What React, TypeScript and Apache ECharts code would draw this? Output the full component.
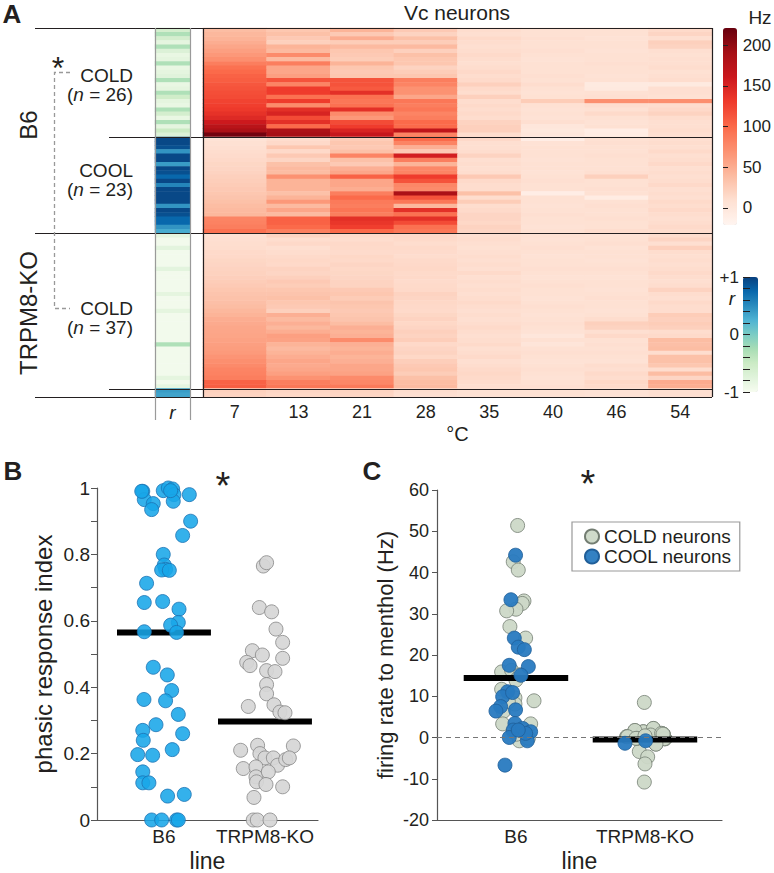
import { useEffect, useRef } from 'react';
import * as echarts from 'echarts';

// ---------- Panel A: heat map (Hz), one array per temperature column, rows top -> bottom ----------
const temps = ['7', '13', '21', '28', '35', '40', '46', '54'];

const b6ColdHz = [
  [38, 42, 45, 50, 55, 60, 65, 72, 85, 95, 100, 105, 108, 112, 115, 118, 120, 125, 128, 132, 138, 145, 160, 175, 185, 215],
  [30, 35, 28, 22, 45, 40, 75, 40, 85, 55, 55, 60, 115, 80, 130, 130, 95, 130, 75, 140, 150, 120, 140, 100, 185, 190],
  [45, 28, 50, 25, 40, 30, 28, 25, 45, 30, 28, 30, 115, 115, 110, 140, 95, 90, 95, 140, 75, 65, 120, 130, 150, 165],
  [28, 20, 35, 25, 40, 22, 35, 30, 30, 20, 25, 30, 85, 80, 70, 70, 55, 90, 85, 90, 80, 85, 100, 100, 170, 80],
  [12, 10, 14, 12, 10, 12, 14, 12, 10, 12, 15, 12, 14, 22, 14, 12, 22, 12, 14, 12, 14, 12, 20, 22, 22, 12],
  [8, 8, 10, 8, 8, 10, 8, 6, 8, 8, 8, 10, 8, 12, 8, 6, 8, 25, 8, 6, 8, 6, 10, 0, -2, 0],
  [8, 8, 6, 8, 8, 6, 8, 8, 10, 8, 8, 6, 8, -5, -4, 8, 10, 72, 12, 8, 14, 8, 6, 8, -10, -8],
  [14, 18, 10, 22, 20, 10, 8, 10, 10, 12, 8, 10, 12, -5, 10, 10, 8, 72, 12, 15, 20, 12, 10, 10, 12, 10],
];
const b6CoolHz = [
  [5, 8, 10, 12, 13, 15, 17, 18, 20, 22, 24, 26, 28, 30, 32, 35, 38, 40, 42, 80, 82, 85, 95],
  [12, 15, 30, 15, 28, 18, 35, 40, 38, 70, 45, 45, 45, 35, 45, 65, 40, 55, 40, 105, 105, 100, 85],
  [25, 30, 28, 35, 80, 35, 28, 48, 55, 105, 55, 55, 50, 85, 100, 88, 85, 92, 85, 140, 135, 128, 100],
  [100, 80, 48, 28, 155, 85, 45, 78, 80, 130, 115, 78, 75, 185, 115, 90, 42, 140, 95, 140, 120, 95, 90],
  [15, 10, 10, 12, 20, 10, 12, 10, 12, 28, 14, 12, 12, 35, 12, 25, 12, 14, 18, 18, 16, 20, 18],
  [-10, 6, 8, 8, 8, 6, 8, 8, 6, 8, 10, 8, 8, -10, 8, 8, 6, 8, 10, 8, 8, 6, 8],
  [8, 10, 8, 8, 10, 8, 8, 8, 10, 22, 8, 8, 10, 8, -8, 8, 10, 8, 8, 10, 8, 8, 12],
  [10, 12, 10, 14, 10, 12, 15, 10, 12, 10, 12, 15, 10, 12, 10, 14, 12, 15, 12, 10, 12, 14, 12],
];
const koColdHz = [
  [8, 10, 11, 12, 14, 15, 17, 18, 20, 21, 23, 25, 27, 30, 32, 34, 36, 38, 42, 45, 50, 52, 54, 55, 56, 58, 60, 62, 64, 68, 72, 76, 80, 82, 85, 105, 108],
  [20, 12, 15, 10, 12, 14, 16, 15, 20, 18, 22, 28, 25, 30, 32, 35, 30, 28, 22, 48, 40, 48, 42, 50, 60, 58, 45, 40, 45, 50, 55, 52, 55, 60, 70, 85, 90],
  [14, 12, 15, 14, 13, 16, 15, 18, 16, 17, 18, 20, 20, 28, 30, 26, 32, 30, 28, 30, 32, 38, 48, 45, 48, 75, 48, 45, 50, 45, 48, 55, 55, 58, 75, 78, 88],
  [15, 14, 12, 14, 13, 12, 14, 15, 16, 14, 15, 13, 14, 15, 20, 18, 16, 15, 14, 17, 20, 16, 18, 22, 20, 24, 15, 18, 20, 16, 24, 28, 30, 25, 35, 38, 40],
  [10, 12, 10, 8, 10, 12, 10, 12, 10, 14, 10, 12, 10, 12, 10, 12, 14, 12, 10, 12, 10, 12, 14, 12, 10, 12, 14, 10, 12, 14, 10, 12, 14, 16, 14, 12, 10],
  [8, 6, 8, 10, 8, 6, 8, 8, 10, 8, 6, 8, 10, 8, 8, 6, 8, 10, 8, 6, 8, 10, 8, 6, 0, 8, 2, 8, 10, 8, 6, 8, 10, 8, 6, 8, 10],
  [6, 8, 10, 6, 8, 8, 6, 8, 10, 8, 6, 8, 8, 6, 8, 10, 8, 8, 6, 8, 12, 22, 20, 10, 15, 8, 10, 8, 10, 8, 6, 12, 10, 14, 12, 16, 14],
  [12, 18, 10, 22, 12, 10, 12, 10, 12, 14, 12, 10, 12, 20, 12, 10, 14, 12, 12, 25, 22, 25, 22, 12, 14, 38, 36, 38, 12, 35, 35, 30, 12, 38, 18, 52, 50],
];
const koCoolHz = [[22, 20], [18, 16], [20, 18], [12, 10], [8, 8], [8, 8], [6, 6], [10, 10]];

// r column (correlation), rows top -> bottom
const rB6Cold = [-0.6, -0.3, -0.6, -0.8, -0.3, -0.7, -0.85, -0.8, -0.3, -0.85, -0.8, -0.75, -0.3, -0.85, -0.8, -0.3, -0.55, -0.8, -0.85, -0.3, -0.6, -0.85, -0.3, -0.8, -0.5, -0.7];
const rB6Cool = [0.95, 0.95, 0.9, 0.45, 0.95, 0.95, 0.4, 0.95, 0.9, 0.75, 0.95, 0.55, 0.95, 0.95, 0.95, 0.95, 0.45, 0.95, 0.9, 0.75, 0.75, 0.45, 0.3];
const rKoCold = [-0.8, -0.95, -0.95, -0.78, -0.95, -0.95, -0.95, -0.95, -0.78, -0.95, -0.95, -0.95, -0.95, -0.95, -0.8, -0.95, -0.95, -0.95, -0.8, -0.95, -0.95, -0.95, -0.95, -0.95, -0.95, -0.95, -0.3, -0.95, -0.95, -0.95, -0.95, -0.95, -0.95, -0.95, -0.8, -0.95, -0.82];
const rKoCool = [0.4, 0.35];

const hzTicks = [0, 50, 100, 150, 200];
const rTicks = [-1, -0.8, -0.6, -0.4, -0.2, 0, 0.2, 0.4, 0.6, 0.8, 1];
const rLabels = [-1, 0, 1];

// ---------- Panel B: phasic response index ----------
const lineCats = ['B6', 'TRPM8-KO'];
const b6Phasic = [0.99, 0.965, 0.953, 0.935, 0.992, 1.0, 0.997, 0.98, 0.96, 0.98, 0.9, 0.857, 0.8, 0.768, 0.755, 0.753, 0.752, 0.713, 0.655, 0.658, 0.635, 0.595, 0.587, 0.567, 0.565, 0.46, 0.437, 0.39, 0.363, 0.359, 0.318, 0.287, 0.27, 0.24, 0.26, 0.197, 0.195, 0.212, 0.145, 0.112, 0.112, 0.072, 0.077, 0, 0, 0, 0, 0.99, 0.992];
const b6PhasicJitter = [-0.21, -0.195, -0.106, -0.122, -0.007, 0.043, 0.086, 0.099, 0.092, 0.251, 0.264, 0.185, -0.007, 0.003, 0.016, -0.023, 0.053, -0.172, -0.195, -0.013, 0.149, 0.142, 0.066, -0.195, 0.125, -0.106, 0.033, 0.076, -0.198, 0.016, 0.142, -0.079, -0.21, -0.205, 0.185, -0.26, -0.112, 0.082, -0.21, -0.21, -0.149, 0.036, 0.201, -0.122, -0.023, 0.125, 0.142, -0.22, 0.066];
const koPhasic = [0.765, 0.775, 0.64, 0.627, 0.575, 0.535, 0.51, 0.497, 0.475, 0.465, 0.487, 0.45, 0.447, 0.408, 0.38, 0.342, 0.347, 0.325, 0.323, 0.225, 0.21, 0.2, 0.187, 0.187, 0.165, 0.182, 0.223, 0.187, 0.155, 0.16, 0.13, 0.115, 0.145, 0.107, 0.1, 0.068, 0, 0, 0];
const koPhasicJitter = [-0.016, 0.016, -0.056, 0.066, 0.109, 0.175, -0.125, -0.026, -0.181, -0.148, 0.175, 0.016, 0.099, 0.016, 0.016, -0.165, 0.089, 0.148, 0.198, -0.073, -0.241, -0.05, 0, 0.083, 0.125, 0.205, 0.281, 0.241, -0.215, -0.089, -0.089, -0.083, 0.033, 0.01, 0.175, -0.109, -0.116, -0.076, 0.05];
const phasicMeans = [0.565, 0.297];

// ---------- Panel C: firing rate to menthol (Hz) ----------
const b6ColdMenthol = [51.4, 42.6, 40.6, 33.1, 32.5, 31.1, 30.7, 26.9, 24.1, 15.9, 16.3, 13.9, 11.7, 9.6, 8.9, 8.1, 6.3, 3.3, 3.3, -0.8, 1.4, 1.8, 8.7, 15.2, 0.8, -0.2];
const b6ColdJitter = [0.013, -0.021, 0.018, 0.062, 0.049, 0, -0.072, -0.047, 0.075, -0.111, -0.034, 0, -0.111, -0.008, 0.14, -0.008, -0.098, -0.103, 0.114, 0.026, -0.021, 0.057, -0.059, 0.031, 0.005, 0.096];
const b6CoolMenthol = [44.2, 33.4, 24.1, 21.9, 21.3, 17.5, 17.2, 15.1, 11.1, 9.9, 7.5, 6.4, 6.7, 3.4, 1.8, 2.2, 1.4, 0.0, -0.8, -6.7, 1.0, 1.8, 10.9];
const b6CoolJitter = [-0.003, -0.039, -0.013, 0.018, 0.065, -0.052, 0.096, 0.039, -0.065, -0.103, -0.119, -0.155, -0.003, -0.008, -0.021, 0.052, 0.114, -0.052, 0.088, -0.085, 0.075, 0.018, -0.026];
const koColdMenthol = [8.5, 1.7, 1.4, 2.2, 0.8, 0.2, -0.2, -0.4, 0.2, -0.3, -1.6, -3.4, -4.7, -6.4, -10.8, 1.0, 0.6, 0.2, -0.2, -0.4, 0.3, -0.3, 0.8, 1.4, 2.2, 1.7, -0.2, 0.2, -0.4, 0.6, 1.0, -0.3, 0.2, -0.2, -1.6, 0.8, 0.4];
const koColdJitter = [-0.005, -0.078, -0.013, 0.065, 0.142, -0.142, -0.065, 0.013, 0.103, 0.155, 0.085, -0.044, 0.021, 0, -0.005, 0.129, 0.044, -0.14, -0.065, 0.013, 0.103, 0.155, 0.142, -0.013, 0.065, -0.078, -0.06, 0.1, 0.02, 0.044, 0.129, 0.15, -0.135, -0.07, 0.085, 0.14, 0.0];
const koCoolMenthol = [-1.4, -0.8];
const koCoolJitter = [-0.155, 0.005];
const mentholMeans = [14.4, -0.5];

const FONT = '"Liberation Sans", Arial, Helvetica, sans-serif';
const INK = '#231f20';

const reds = ['#fff5f0', '#fee0d2', '#fcbba1', '#fc9272', '#fb6a4a', '#ef3b2c', '#cb181d', '#a50f15', '#67000d'];
const gnbu = ['#f7fcf0', '#e0f3db', '#ccebc5', '#a8ddb5', '#7bccc4', '#4eb3d3', '#2b8cbe', '#0868ac', '#08407e'];

export default function App() {
  const ref = useRef<HTMLDivElement>(null);

  useEffect(() => {
    const chart = echarts.init(ref.current!, null, { renderer: 'svg' });

    // ---- assemble heat map cells ----
    const groups = [
      { hz: b6ColdHz, r: rB6Cold },
      { hz: b6CoolHz, r: rB6Cool },
      { hz: koColdHz, r: rKoCold },
      { hz: koCoolHz, r: rKoCool },
    ];
    const heatData: number[][] = [];
    const rData: number[][] = [];
    const bounds: number[] = [];
    let row = 0;
    groups.forEach((g) => {
      for (let i = 0; i < g.r.length; i++) {
        for (let t = 0; t < temps.length; t++) heatData.push([t, row + i, g.hz[t][i]]);
        rData.push([0, row + i, g.r[i]]);
      }
      row += g.r.length;
      bounds.push(row);
    });
    const totalRows = row;
    const rowCats = Array.from({ length: totalRows }, (_, i) => String(i));

    // layout of panel A
    const HL = 203, HR = 712, HT = 28, HB = 397;
    const rowH = (HB - HT) / totalRows;
    const yB = (n: number) => Math.round(HT + n * rowH) + 0.5;

    const ln = (x1: number, y1: number, x2: number, y2: number, stroke = INK, lw = 1.2, dash?: number[]) => ({
      type: 'line', z: 100, silent: true,
      shape: { x1, y1, x2, y2 },
      style: { stroke, lineWidth: lw, lineDash: dash },
    });
    const txt = (text: string, x: number, y: number, size: number, extra: any = {}, el: any = {}) => ({
      type: 'text', x, y, z: 100, silent: true, ...el,
      style: { text, fontSize: size, fontFamily: FONT, fill: INK, align: 'center', verticalAlign: 'middle', ...extra },
    });
    const nText = (count: number, x: number, y: number) =>
      txt(`({i|n} = ${count})`, x, y, 19, { align: 'right', rich: { i: { fontStyle: 'italic', fontSize: 19, fontFamily: FONT, fill: INK } } });

    const axisLineStyle = { color: '#555', width: 1.2 };

    const pts = (base: number, vals: number[], jit: number[]) => vals.map((v, i) => [base + jit[i], v]);
    const meanLine = (xi: number, yi: number, base: number, half: number, m: number, name: string, z: number) => ({
      type: 'line', name, xAxisIndex: xi, yAxisIndex: yi, data: [[base - half, m], [base + half, m]],
      symbol: 'none', lineStyle: { color: '#000', width: 6, cap: 'butt' }, z, silent: true,
    });

    const option: any = {
      animation: false,
      textStyle: { fontFamily: FONT, color: INK },
      grid: [
        { left: HL, top: HT, width: HR - HL, height: HB - HT },
        { left: 155, top: HT, width: 35, height: HB - HT },
        { left: 723, top: 28, width: 14, height: 197 },
        { left: 743, top: 277, width: 15, height: 115 },
        { left: 97, top: 488, width: 221, height: 334 },
        { left: 437, top: 490, width: 285, height: 333 },
      ],
      xAxis: [
        {
          gridIndex: 0, type: 'category', data: temps,
          axisLine: { show: false }, axisTick: { show: false },
          axisLabel: { fontSize: 18, color: INK, margin: 6 },
          name: '°C', nameLocation: 'middle', nameGap: 27, nameTextStyle: { fontSize: 20, color: INK },
        },
        {
          gridIndex: 1, type: 'category', data: ['r'],
          axisLine: { show: false }, axisTick: { show: false },
          axisLabel: { fontSize: 19, fontStyle: 'italic', color: INK, margin: 6 },
        },
        { gridIndex: 2, type: 'value', show: false },
        { gridIndex: 3, type: 'value', show: false },
        {
          gridIndex: 4, type: 'value', min: 0.337, max: 2.525,
          axisLine: { onZero: false, lineStyle: axisLineStyle }, axisTick: { show: false }, splitLine: { show: false },
          axisLabel: { customValues: [1, 2], formatter: (v: number) => lineCats[Math.round(v) - 1], fontSize: 19, color: INK, margin: 7 },
          name: 'line', nameLocation: 'middle', nameGap: 29, nameTextStyle: { fontSize: 23, color: INK },
        },
        {
          gridIndex: 5, type: 'value', min: 0.388, max: 2.597,
          axisLine: { onZero: false, lineStyle: axisLineStyle }, axisTick: { show: false }, splitLine: { show: false },
          axisLabel: { customValues: [1, 2], formatter: (v: number) => lineCats[Math.round(v) - 1], fontSize: 19, color: INK, margin: 7 },
          name: 'line', nameLocation: 'middle', nameGap: 29, nameTextStyle: { fontSize: 23, color: INK },
        },
      ],
      yAxis: [
        { gridIndex: 0, type: 'category', data: rowCats, inverse: true, show: false },
        { gridIndex: 1, type: 'category', data: rowCats, inverse: true, show: false },
        {
          gridIndex: 2, type: 'value', min: -21, max: 221, position: 'right', z: 10,
          axisLine: { show: false }, splitLine: { show: false },
          axisTick: { show: true, length: 5, customValues: hzTicks, lineStyle: { color: INK, width: 1 } },
          axisLabel: { customValues: hzTicks, fontSize: 17, color: INK, margin: 7 },
        },
        {
          gridIndex: 3, type: 'value', min: -1, max: 1, position: 'left', z: 10,
          axisLine: { show: false }, splitLine: { show: false },
          axisTick: { show: true, inside: true, length: 7, customValues: rTicks, lineStyle: { color: INK, width: 1 } },
          axisLabel: { customValues: rLabels, formatter: (v: number) => (v > 0 ? '+1' : String(v)), fontSize: 17, color: INK, margin: 4 },
        },
        {
          gridIndex: 4, type: 'value', min: 0, max: 1,
          axisLine: { show: true, onZero: false, lineStyle: axisLineStyle }, splitLine: { show: false },
          axisTick: { show: true, length: 6, customValues: [0, 0.1, 0.2, 0.3, 0.4, 0.5, 0.6, 0.7, 0.8, 0.9, 1], lineStyle: { color: '#555' } },
          axisLabel: {
            customValues: [0, 0.2, 0.4, 0.6, 0.8, 1],
            formatter: (v: number) => (v === 0 || v === 1 ? String(v) : v.toFixed(1)),
            fontSize: 19, color: INK, margin: 7,
          },
          name: 'phasic response index', nameLocation: 'middle', nameGap: 42, nameTextStyle: { fontSize: 24, color: INK },
        },
        {
          gridIndex: 5, type: 'value', min: -20, max: 60, interval: 10,
          axisLine: { show: true, onZero: false, lineStyle: axisLineStyle }, splitLine: { show: false },
          axisTick: { show: true, length: 5, lineStyle: { color: '#555' } },
          axisLabel: { fontSize: 18, color: INK, margin: 8 },
          name: 'firing rate to menthol (Hz)', nameLocation: 'middle', nameGap: 41, nameTextStyle: { fontSize: 22, color: INK },
        },
      ],
      visualMap: [
        {
          type: 'continuous', seriesIndex: 0, min: -21, max: 221, calculable: false, show: true,
          left: 723, top: 28, itemWidth: 14, itemHeight: 197, padding: 0, text: null,
          inRange: { color: reds }, hoverLink: false,
        },
        {
          type: 'continuous', seriesIndex: 1, min: -1, max: 1, calculable: false, show: true,
          left: 743, top: 277, itemWidth: 15, itemHeight: 115, padding: 0, text: null,
          inRange: { color: gnbu }, hoverLink: false,
        },
      ],
      legend: {
        data: ['COLD neurons', 'COOL neurons'],
        orient: 'vertical', left: 572, top: 522,
        padding: [5, 8, 5, 12], itemGap: 1, itemWidth: 14, itemHeight: 14, icon: 'circle',
        borderColor: '#999', borderWidth: 1.2, backgroundColor: '#fff',
        textStyle: { fontSize: 19, color: INK, padding: [0, 0, 0, 0] },
        selectedMode: false,
      },
      series: [
        {
          type: 'heatmap', xAxisIndex: 0, yAxisIndex: 0, data: heatData,
          itemStyle: { borderWidth: 0 }, emphasis: { disabled: true }, progressive: 0, silent: true,
        },
        {
          type: 'heatmap', xAxisIndex: 1, yAxisIndex: 1, data: rData,
          itemStyle: { borderWidth: 0 }, emphasis: { disabled: true }, progressive: 0, silent: true,
        },
        // Panel B
        meanLine(4, 4, 1, 0.465, phasicMeans[0], 'mean B6 (B)', 1),
        meanLine(4, 4, 2, 0.465, phasicMeans[1], 'mean KO (B)', 1),
        {
          type: 'scatter', name: 'B6 phasic', xAxisIndex: 4, yAxisIndex: 4, z: 3,
          data: pts(1, b6Phasic, b6PhasicJitter), symbolSize: 14,
          itemStyle: { color: 'rgba(24,166,232,0.88)', borderColor: '#1d72b3', borderWidth: 0.8, opacity: 1 },
        },
        {
          type: 'scatter', name: 'KO phasic', xAxisIndex: 4, yAxisIndex: 4, z: 3,
          data: pts(2, koPhasic, koPhasicJitter), symbolSize: 14,
          itemStyle: { color: 'rgba(214,214,214,0.92)', borderColor: '#858585', borderWidth: 0.8, opacity: 1 },
        },
        // Panel C
        {
          type: 'scatter', name: 'COLD neurons', xAxisIndex: 5, yAxisIndex: 5, z: 2,
          data: [...pts(1, b6ColdMenthol, b6ColdJitter), ...pts(2, koColdMenthol, koColdJitter)], symbolSize: 14,
          itemStyle: { color: 'rgba(204,216,199,0.95)', borderColor: '#737d72', borderWidth: 0.8, opacity: 1 },
          markLine: {
            silent: true, symbol: ['none', 'none'], label: { show: false },
            lineStyle: { type: [5, 4], color: '#777', width: 1 },
            data: [{ yAxis: 0 }],
          },
        },
        meanLine(5, 5, 1, 0.405, mentholMeans[0], 'mean B6 (C)', 3),
        meanLine(5, 5, 2, 0.405, mentholMeans[1], 'mean KO (C)', 3),
        {
          type: 'scatter', name: 'COOL neurons', xAxisIndex: 5, yAxisIndex: 5, z: 4,
          data: [...pts(1, b6CoolMenthol, b6CoolJitter), ...pts(2, koCoolMenthol, koCoolJitter)], symbolSize: 14,
          itemStyle: { color: 'rgba(40,122,192,0.95)', borderColor: '#205e98', borderWidth: 0.8, opacity: 1 },
        },
      ],
      graphic: {
        elements: [
          // frame lines of panel A
          ln(35, HT + 0.5, HR, HT + 0.5),
          ln(109, yB(bounds[0]), HR, yB(bounds[0])),
          ln(35, yB(bounds[1]), HR, yB(bounds[1])),
          ln(109, yB(bounds[2]), HR, yB(bounds[2])),
          ln(35, HB + 0.5, HR, HB + 0.5),
          ln(HL + 0.5, HT, HL + 0.5, HB),
          ln(HR + 0.5, HT, HR + 0.5, HB),
          ln(155.5, HT, 155.5, 420, '#9a9a9a', 1.2),
          ln(190.5, HT, 190.5, 420, '#9a9a9a', 1.2),
          // dashed bracket with significance star
          {
            type: 'polyline', z: 100, silent: true,
            shape: { points: [[70, 72.5], [54.5, 72.5], [54.5, 308.5], [70, 308.5]] },
            style: { stroke: '#999', lineWidth: 1.3, lineDash: [4, 3], fill: null },
          },
          txt('*', 58, 68, 32),
          // labels panel A
          txt('A', 12, 14, 26, { fontWeight: 'bold' }),
          txt('Vc neurons', 457, 12, 21),
          txt('Hz', 760, 17, 19),
          txt('B6', 28, 125, 24, {}, { rotation: Math.PI / 2 }),
          txt('TRPM8-KO', 28, 313, 24, {}, { rotation: Math.PI / 2 }),
          txt('COLD', 133, 75, 19, { align: 'right' }),
          nText(26, 133, 94),
          txt('COOL', 133, 170, 19, { align: 'right' }),
          nText(23, 133, 189),
          txt('COLD', 133, 308, 19, { align: 'right' }),
          nText(37, 133, 327),
          txt('r', 732, 298, 19, { fontStyle: 'italic' }),
          // panels B and C
          txt('B', 13, 471, 26, { fontWeight: 'bold' }),
          txt('*', 223, 486, 38),
          txt('C', 372, 471, 26, { fontWeight: 'bold' }),
          txt('*', 588, 484, 38),
        ],
      },
    };

    chart.setOption(option);
    return () => chart.dispose();
  }, []);

  return <div ref={ref} style={{ position: 'fixed', left: 0, top: 0, width: 774, height: 873, background: '#fff' }} />;
}
